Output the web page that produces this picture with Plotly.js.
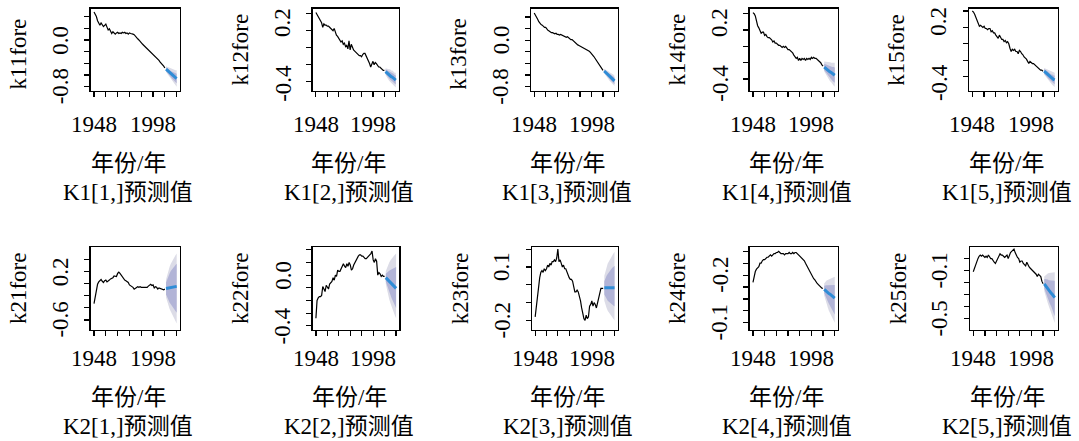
<!DOCTYPE html>
<html>
<head>
<meta charset="utf-8">
<script src="https://cdn.plot.ly/plotly-3.0.1.min.js"></script>
<style>html,body{margin:0;padding:0;background:#fff}#chart{width:1079px;height:441px}</style>
</head>
<body>
<div id="chart"></div>
<script>
// ---------------- DATA ----------------
const obsYears = [1948,1949,1950,1951,1952,1953,1954,1955,1956,1957,1958,1959,1960,1961,1962,1963,1964,1965,1966,1967,1968,1969,1970,1971,1972,1973,1974,1975,1976,1977,1978,1979,1980,1981,1982,1983,1984,1985,1986,1987,1988,1989,1990,1991,1992,1993,1994,1995,1996,1997,1998,1999,2000,2001,2002,2003,2004,2005,2006,2007,2008];
const fcYears = [2009,2010,2011,2012,2013,2014,2015,2016,2017,2018];

const xTickVals = [1948,1958,1968,1978,1988,1998,2008,2018];
const xLabelVals = [1948,1998];
const xLabelText = ["1948","1998"];

const yTitles = ["k11fore","k12fore","k13fore","k14fore","k15fore","k21fore","k22fore","k23fore","k24fore","k25fore"];
const subTitles = ["K1[1,]预测值","K1[2,]预测值","K1[3,]预测值","K1[4,]预测值","K1[5,]预测值","K2[1,]预测值","K2[2,]预测值","K2[3,]预测值","K2[4,]预测值","K2[5,]预测值"];
const xTitle = "年份/年";

// k11
const k11 = [0.48,0.44,0.40,0.33,0.27,0.25,0.29,0.26,0.23,0.25,0.27,0.22,0.17,0.19,0.15,0.11,0.14,0.12,0.10,0.12,0.13,0.11,0.12,0.11,0.13,0.12,0.13,0.11,0.12,0.10,0.12,0.11,0.11,0.10,0.09,0.06,0.05,0.02,0.00,-0.03,-0.04,-0.07,-0.09,-0.11,-0.12,-0.15,-0.17,-0.19,-0.21,-0.23,-0.25,-0.27,-0.29,-0.31,-0.33,-0.35,-0.38,-0.40,-0.43,-0.45,-0.48];
const k11Fc = [-0.50,-0.52,-0.54,-0.56,-0.58,-0.60,-0.61,-0.63,-0.645,-0.66];
const k11Lo95 = [-0.55,-0.58,-0.61,-0.64,-0.67,-0.70,-0.72,-0.75,-0.77,-0.80];
const k11Hi95 = [-0.45,-0.46,-0.47,-0.48,-0.49,-0.50,-0.50,-0.51,-0.52,-0.52];
const k11Lo80 = [-0.53,-0.56,-0.58,-0.61,-0.63,-0.66,-0.68,-0.70,-0.72,-0.74];
const k11Hi80 = [-0.47,-0.48,-0.50,-0.51,-0.53,-0.54,-0.54,-0.56,-0.57,-0.58];
const k11YTicks = [-0.8,-0.6,-0.4,-0.2,0.0,0.2,0.4];
const k11YLabelVals = [-0.8,0.0];
const k11YLabelText = ["-0.8","0.0"];

// k12
const k12 = [0.21,0.19,0.17,0.15,0.14,0.12,0.08,0.11,0.10,0.10,0.09,0.09,0.08,0.07,0.06,0.05,0.07,0.03,0.01,0.00,-0.02,-0.03,-0.05,-0.04,-0.07,-0.06,-0.09,-0.08,-0.11,-0.04,-0.12,-0.07,-0.10,-0.12,-0.13,-0.14,-0.15,-0.16,-0.17,-0.17,-0.18,-0.16,-0.15,-0.15,-0.17,-0.19,-0.21,-0.24,-0.27,-0.24,-0.22,-0.25,-0.23,-0.24,-0.26,-0.27,-0.27,-0.28,-0.29,-0.30,-0.30];
const k12Fc = [-0.31,-0.32,-0.33,-0.34,-0.345,-0.355,-0.36,-0.37,-0.38,-0.385];
const k12Lo95 = [-0.34,-0.36,-0.37,-0.39,-0.40,-0.41,-0.42,-0.43,-0.44,-0.45];
const k12Hi95 = [-0.28,-0.285,-0.29,-0.29,-0.29,-0.30,-0.30,-0.31,-0.32,-0.32];
const k12Lo80 = [-0.33,-0.345,-0.355,-0.37,-0.38,-0.39,-0.40,-0.41,-0.42,-0.425];
const k12Hi80 = [-0.29,-0.295,-0.305,-0.31,-0.31,-0.32,-0.32,-0.33,-0.34,-0.345];
const k12YTicks = [-0.4,-0.25,-0.1,0.05,0.2];
const k12YLabelVals = [-0.412,0.124];
const k12YLabelText = ["-0.4","0.2"];

// k13
const k13 = [0.47,0.44,0.40,0.36,0.32,0.29,0.27,0.26,0.24,0.22,0.22,0.19,0.17,0.16,0.14,0.13,0.13,0.12,0.11,0.12,0.10,0.10,0.09,0.10,0.09,0.07,0.06,0.06,0.05,0.06,0.04,0.02,0.01,0.01,-0.01,-0.03,-0.05,-0.06,-0.08,-0.09,-0.10,-0.11,-0.12,-0.13,-0.14,-0.15,-0.16,-0.17,-0.19,-0.21,-0.23,-0.25,-0.28,-0.31,-0.34,-0.39,-0.42,-0.45,-0.48,-0.51,-0.52];
const k13Fc = [-0.53,-0.55,-0.57,-0.59,-0.61,-0.63,-0.645,-0.665,-0.68,-0.70];
const k13Lo95 = [-0.57,-0.60,-0.63,-0.655,-0.68,-0.705,-0.725,-0.75,-0.77,-0.79];
const k13Hi95 = [-0.49,-0.50,-0.51,-0.525,-0.54,-0.555,-0.565,-0.58,-0.59,-0.61];
const k13Lo80 = [-0.555,-0.58,-0.605,-0.63,-0.655,-0.675,-0.695,-0.72,-0.735,-0.76];
const k13Hi80 = [-0.505,-0.52,-0.535,-0.55,-0.565,-0.585,-0.595,-0.61,-0.625,-0.64];
const k13YTicks = [-0.8,-0.6,-0.4,-0.2,0.0,0.2,0.4];
const k13YLabelVals = [-0.8,0.0];
const k13YLabelText = ["-0.8","0.0"];

// k14
const k14 = [0.21,0.20,0.18,0.12,0.09,0.07,0.05,0.02,0.03,0.03,0.00,0.01,-0.01,-0.02,-0.02,-0.03,-0.04,-0.06,-0.05,-0.07,-0.07,-0.08,-0.09,-0.09,-0.10,-0.11,-0.10,-0.11,-0.10,-0.12,-0.13,-0.13,-0.14,-0.15,-0.16,-0.18,-0.20,-0.21,-0.20,-0.23,-0.21,-0.23,-0.21,-0.22,-0.21,-0.23,-0.21,-0.22,-0.21,-0.22,-0.20,-0.21,-0.20,-0.21,-0.21,-0.22,-0.23,-0.24,-0.25,-0.27,-0.28];
const k14Fc = [-0.29,-0.30,-0.31,-0.32,-0.325,-0.335,-0.34,-0.35,-0.355,-0.365];
const k14Lo95 = [-0.33,-0.35,-0.37,-0.39,-0.40,-0.42,-0.43,-0.45,-0.46,-0.47];
const k14Hi95 = [-0.24,-0.24,-0.24,-0.245,-0.245,-0.245,-0.25,-0.25,-0.25,-0.25];
const k14Lo80 = [-0.32,-0.335,-0.35,-0.365,-0.375,-0.39,-0.40,-0.415,-0.425,-0.435];
const k14Hi80 = [-0.26,-0.265,-0.27,-0.275,-0.275,-0.28,-0.285,-0.29,-0.29,-0.295];
const k14YTicks = [-0.4,-0.25,-0.1,0.05,0.2];
const k14YLabelVals = [-0.437,0.121];
const k14YLabelText = ["-0.4","0.2"];

// k15
const k15 = [0.20,0.19,0.17,0.14,0.12,0.10,0.06,0.07,0.06,0.05,0.06,0.04,0.04,0.03,0.04,0.04,0.01,0.02,0.00,0.00,-0.02,-0.04,-0.05,-0.02,-0.04,-0.06,-0.06,-0.08,-0.07,-0.09,-0.08,-0.10,-0.14,-0.17,-0.15,-0.16,-0.15,-0.17,-0.17,-0.19,-0.16,-0.17,-0.19,-0.20,-0.22,-0.23,-0.24,-0.26,-0.28,-0.26,-0.27,-0.28,-0.28,-0.29,-0.30,-0.31,-0.32,-0.33,-0.34,-0.34,-0.35];
const k15Fc = [-0.35,-0.36,-0.37,-0.38,-0.39,-0.40,-0.41,-0.415,-0.425,-0.43];
const k15Lo95 = [-0.38,-0.395,-0.41,-0.425,-0.44,-0.45,-0.465,-0.475,-0.485,-0.495];
const k15Hi95 = [-0.32,-0.325,-0.33,-0.335,-0.34,-0.35,-0.355,-0.355,-0.365,-0.365];
const k15Lo80 = [-0.37,-0.385,-0.395,-0.41,-0.42,-0.43,-0.44,-0.45,-0.46,-0.47];
const k15Hi80 = [-0.33,-0.335,-0.345,-0.35,-0.36,-0.37,-0.38,-0.38,-0.39,-0.39];
const k15YTicks = [-0.4,-0.25,-0.1,0.05,0.2];
const k15YLabelVals = [-0.458,0.102];
const k15YLabelText = ["-0.4","0.2"];

// k21
const k21 = [-0.33,-0.22,-0.10,-0.01,0.03,0.05,0.07,0.04,0.02,0.05,0.06,0.03,0.04,0.06,0.08,0.09,0.10,0.13,0.12,0.12,0.17,0.19,0.17,0.14,0.12,0.08,0.06,0.05,0.03,0.02,-0.02,-0.03,-0.04,-0.06,-0.09,-0.08,-0.06,-0.05,-0.06,-0.05,-0.06,-0.06,-0.05,-0.06,-0.05,-0.06,-0.04,-0.03,-0.01,-0.03,-0.02,-0.07,-0.05,-0.06,-0.09,-0.07,-0.08,-0.09,-0.09,-0.10,-0.09];
const k21Fc = [-0.08,-0.075,-0.07,-0.07,-0.065,-0.06,-0.055,-0.05,-0.048,-0.044];
const k21Lo95 = [-0.23,-0.30,-0.36,-0.42,-0.46,-0.50,-0.54,-0.58,-0.62,-0.66];
const k21Hi95 = [0.07,0.15,0.22,0.28,0.33,0.37,0.41,0.44,0.47,0.50];
const k21Lo80 = [-0.18,-0.23,-0.27,-0.31,-0.34,-0.37,-0.40,-0.43,-0.46,-0.48];
const k21Hi80 = [0.02,0.08,0.13,0.17,0.21,0.24,0.27,0.29,0.31,0.33];
const k21YTicks = [-0.6,-0.4,-0.2,0.0,0.2,0.4];
const k21YLabelVals = [-0.6,0.2];
const k21YLabelText = ["-0.6","0.2"];

// k22
const k22 = [-0.34,-0.20,-0.18,-0.17,-0.17,-0.16,-0.09,-0.12,-0.13,-0.08,-0.10,-0.11,-0.07,-0.06,-0.05,-0.02,-0.04,0.00,-0.01,0.04,0.03,0.03,0.05,0.07,0.09,0.07,0.06,0.09,0.07,0.10,0.08,0.04,0.05,0.08,0.10,0.12,0.13,0.15,0.16,0.16,0.15,0.15,0.14,0.13,0.13,0.14,0.15,0.16,0.17,0.19,0.12,0.10,0.13,0.11,0.00,0.02,0.01,-0.01,0.00,-0.01,-0.01];
const k22Fc = [-0.02,-0.03,-0.04,-0.05,-0.06,-0.07,-0.08,-0.09,-0.10,-0.105];
const k22Lo95 = [-0.07,-0.12,-0.16,-0.19,-0.22,-0.25,-0.27,-0.29,-0.32,-0.34];
const k22Hi95 = [0.03,0.06,0.08,0.10,0.115,0.13,0.14,0.15,0.16,0.17];
const k22Lo80 = [-0.05,-0.08,-0.11,-0.14,-0.16,-0.18,-0.20,-0.22,-0.24,-0.26];
const k22Hi80 = [0.01,0.02,0.03,0.035,0.04,0.045,0.05,0.055,0.06,0.065];
const k22YTicks = [-0.4,-0.3,-0.2,-0.1,0.0,0.1,0.2];
const k22YLabelVals = [-0.4,0.0];
const k22YLabelText = ["-0.4","0.0"];

// k23
const k23 = [-0.18,-0.12,-0.06,-0.01,0.04,0.07,0.08,0.07,0.09,0.08,0.09,0.11,0.10,0.12,0.11,0.13,0.13,0.14,0.13,0.15,0.20,0.13,0.14,0.12,0.10,0.11,0.09,0.09,0.07,0.05,0.04,0.03,0.03,0.02,-0.01,-0.04,-0.04,-0.03,-0.04,-0.06,-0.09,-0.13,-0.17,-0.19,-0.20,-0.17,-0.19,-0.18,-0.12,-0.11,-0.09,-0.12,-0.10,-0.11,-0.13,-0.10,-0.09,-0.06,-0.02,-0.02,-0.02];
const k23Fc = [-0.017,-0.017,-0.017,-0.017,-0.017,-0.017,-0.017,-0.017,-0.017,-0.017];
const k23Lo95 = [-0.09,-0.115,-0.13,-0.145,-0.155,-0.165,-0.175,-0.185,-0.19,-0.20];
const k23Hi95 = [0.05,0.08,0.10,0.12,0.13,0.145,0.155,0.165,0.175,0.185];
const k23Lo80 = [-0.055,-0.07,-0.08,-0.09,-0.095,-0.10,-0.105,-0.11,-0.115,-0.122];
const k23Hi80 = [0.02,0.04,0.05,0.06,0.07,0.08,0.09,0.095,0.10,0.107];
const k23YTicks = [-0.2,-0.1,0.0,0.1,0.2];
const k23YLabelVals = [-0.2,0.1];
const k23YLabelText = ["-0.2","0.1"];

// k24
const k24 = [-0.26,-0.20,-0.17,-0.15,-0.14,-0.13,-0.10,-0.10,-0.08,-0.07,-0.07,-0.06,-0.05,-0.05,-0.04,-0.03,-0.04,-0.03,-0.02,-0.02,-0.01,-0.01,0.00,-0.01,-0.02,-0.02,-0.02,-0.03,-0.02,-0.02,-0.02,-0.01,-0.02,-0.02,-0.01,-0.02,-0.01,-0.01,-0.02,-0.03,-0.04,-0.05,-0.06,-0.07,-0.08,-0.10,-0.12,-0.14,-0.16,-0.17,-0.19,-0.21,-0.23,-0.24,-0.26,-0.27,-0.28,-0.29,-0.30,-0.31,-0.31];
const k24Fc = [-0.32,-0.33,-0.34,-0.345,-0.355,-0.36,-0.37,-0.38,-0.385,-0.394];
const k24Lo95 = [-0.37,-0.41,-0.44,-0.47,-0.50,-0.52,-0.55,-0.57,-0.59,-0.60];
const k24Hi95 = [-0.27,-0.255,-0.245,-0.24,-0.235,-0.23,-0.225,-0.22,-0.217,-0.214];
const k24Lo80 = [-0.35,-0.38,-0.40,-0.42,-0.44,-0.46,-0.48,-0.50,-0.515,-0.53];
const k24Hi80 = [-0.29,-0.285,-0.285,-0.285,-0.285,-0.285,-0.285,-0.285,-0.284,-0.283];
const k24YTicks = [-0.6,-0.5,-0.4,-0.3,-0.2,-0.1,0.0];
const k24YLabelVals = [-0.6,-0.2];
const k24YLabelText = ["-0.1","-0.2"];

// k25
const k25 = [-0.11,-0.08,-0.05,-0.03,0.00,0.02,0.03,0.02,0.03,0.02,0.01,0.02,0.01,0.03,0.01,0.00,0.00,-0.02,-0.03,-0.04,-0.02,0.00,0.01,0.04,0.03,0.03,0.02,0.01,0.02,0.03,0.00,0.03,0.05,0.06,0.07,0.08,0.05,0.02,0.01,0.00,-0.03,-0.02,-0.02,-0.04,-0.05,-0.06,-0.03,-0.06,-0.07,-0.08,-0.09,-0.10,-0.11,-0.12,-0.13,-0.15,-0.13,-0.14,-0.15,-0.19,-0.21];
const k25Fc = [-0.21,-0.225,-0.24,-0.255,-0.265,-0.28,-0.29,-0.30,-0.315,-0.325];
const k25Lo95 = [-0.27,-0.31,-0.34,-0.37,-0.40,-0.43,-0.46,-0.49,-0.51,-0.537];
const k25Hi95 = [-0.15,-0.14,-0.13,-0.125,-0.12,-0.12,-0.115,-0.115,-0.114,-0.114];
const k25Lo80 = [-0.25,-0.28,-0.30,-0.33,-0.35,-0.38,-0.40,-0.43,-0.45,-0.48];
const k25Hi80 = [-0.17,-0.17,-0.175,-0.175,-0.18,-0.18,-0.18,-0.185,-0.185,-0.185];
const k25YTicks = [-0.5,-0.4,-0.3,-0.2,-0.1,0.0];
const k25YLabelVals = [-0.5,-0.1];
const k25YLabelText = ["-0.5","-0.1"];

// ---------------- LAYOUT / STYLE ----------------
const W = 1079, H = 441;
const FONT = "'Liberation Serif', 'Times New Roman', 'Noto Sans CJK SC', serif";
const FS = 23;
const COL_LINE = "#000000", COL_FC = "#2F8CD6", COL_95 = "#DCDCE7", COL_80 = "#B2B4D7";

const panels = [
  {obs:k11, fc:k11Fc, lo95:k11Lo95, hi95:k11Hi95, lo80:k11Lo80, hi80:k11Hi80, ticks:k11YTicks, lv:k11YLabelVals, lt:k11YLabelText, box:{l:90.7,r:180,t:8.7,b:90.7}, yr:[-0.869,0.535], ylOff:4},
  {obs:k12, fc:k12Fc, lo95:k12Lo95, hi95:k12Hi95, lo80:k12Lo80, hi80:k12Hi80, ticks:k12YTicks, lv:k12YLabelVals, lt:k12YLabelText, box:{l:312.7,r:399,t:8.7,b:90.7}, yr:[-0.479,0.244], ylOff:0},
  {obs:k13, fc:k13Fc, lo95:k13Lo95, hi95:k13Hi95, lo80:k13Lo80, hi80:k13Hi80, ticks:k13YTicks, lv:k13YLabelVals, lt:k13YLabelText, box:{l:531,r:617.7,t:8.7,b:90.7}, yr:[-0.869,0.543], ylOff:4},
  {obs:k14, fc:k14Fc, lo95:k14Lo95, hi95:k14Hi95, lo80:k14Lo80, hi80:k14Hi80, ticks:k14YTicks, lv:k14YLabelVals, lt:k14YLabelText, box:{l:749.7,r:838,t:8.7,b:90.7}, yr:[-0.507,0.246], ylOff:0},
  {obs:k15, fc:k15Fc, lo95:k15Lo95, hi95:k15Hi95, lo80:k15Lo80, hi80:k15Hi80, ticks:k15YTicks, lv:k15YLabelVals, lt:k15YLabelText, box:{l:969,r:1058,t:8.7,b:90.7}, yr:[-0.528,0.221], ylOff:0},
  {obs:k21, fc:k21Fc, lo95:k21Lo95, hi95:k21Hi95, lo80:k21Lo80, hi80:k21Hi80, ticks:k21YTicks, lv:k21YLabelVals, lt:k21YLabelText, box:{l:90.7,r:180,t:247,b:329.7}, yr:[-0.762,0.608], ylOff:0},
  {obs:k22, fc:k22Fc, lo95:k22Lo95, hi95:k22Hi95, lo80:k22Lo80, hi80:k22Hi80, ticks:k22YTicks, lv:k22YLabelVals, lt:k22YLabelText, box:{l:312.7,r:399.3,t:247,b:329.7}, yr:[-0.431,0.222], ylOff:0},
  {obs:k23, fc:k23Fc, lo95:k23Lo95, hi95:k23Hi95, lo80:k23Lo80, hi80:k23Hi80, ticks:k23YTicks, lv:k23YLabelVals, lt:k23YLabelText, box:{l:532,r:617.7,t:247,b:329.7}, yr:[-0.252,0.212], ylOff:0},
  {obs:k24, fc:k24Fc, lo95:k24Lo95, hi95:k24Hi95, lo80:k24Lo80, hi80:k24Hi80, ticks:k24YTicks, lv:k24YLabelVals, lt:k24YLabelText, box:{l:749.7,r:838,t:247,b:329.7}, yr:[-0.658,0.036], ylOff:0},
  {obs:k25, fc:k25Fc, lo95:k25Lo95, hi95:k25Hi95, lo80:k25Lo80, hi80:k25Hi80, ticks:k25YTicks, lv:k25YLabelVals, lt:k25YLabelText, box:{l:970,r:1058,t:247,b:329.7}, yr:[-0.593,0.097], ylOff:0}
];

const px = p => p / W;
const py = p => 1 - p / H;

const traces = [];
const layout = {
  width: W, height: H,
  margin: {l:0, r:0, t:0, b:0},
  paper_bgcolor: "#fff", plot_bgcolor: "#fff",
  showlegend: false,
  font: {family: FONT, size: FS, color: "#000"},
  annotations: []
};

panels.forEach((p, i) => {
  const n = i + 1;
  const xa = n === 1 ? "x" : "x" + n;
  const ya = n === 1 ? "y" : "y" + n;
  const row2 = i >= 5;
  const b = p.box;

  const base = {xaxis: xa, yaxis: ya, mode: "lines", hoverinfo: "skip"};
  traces.push(Object.assign({}, base, {x: fcYears, y: p.lo95, line: {width: 0, color: COL_95}}));
  traces.push(Object.assign({}, base, {x: fcYears, y: p.hi95, line: {width: 0, color: COL_95}, fill: "tonexty", fillcolor: COL_95}));
  traces.push(Object.assign({}, base, {x: fcYears, y: p.lo80, line: {width: 0, color: COL_80}}));
  traces.push(Object.assign({}, base, {x: fcYears, y: p.hi80, line: {width: 0, color: COL_80}, fill: "tonexty", fillcolor: COL_80}));
  traces.push(Object.assign({}, base, {x: obsYears, y: p.obs, line: {width: 1.2, color: COL_LINE}}));
  traces.push(Object.assign({}, base, {x: fcYears, y: p.fc, line: {width: 3, color: COL_FC}}));

  const axCommon = {
    showgrid: false, zeroline: false, showline: true, mirror: true,
    linecolor: "#000", linewidth: 1.4, ticks: "outside", ticklen: 5, tickwidth: 1.2,
    tickcolor: "#000", showticklabels: false, tickmode: "array", fixedrange: true
  };
  layout[n === 1 ? "xaxis" : "xaxis" + n] = Object.assign({}, axCommon, {
    domain: [px(b.l), px(b.r)], anchor: ya, range: [1945.2, 2020.8], tickvals: xTickVals
  });
  layout[n === 1 ? "yaxis" : "yaxis" + n] = Object.assign({}, axCommon, {
    domain: [py(b.b), py(b.t)], anchor: xa, range: p.yr, tickvals: p.ticks
  });

  const txt = {showarrow: false, font: {family: FONT, size: FS, color: "#000"}, xanchor: "center", yanchor: "middle"};
  xLabelVals.forEach((v, k) => {
    layout.annotations.push(Object.assign({}, txt, {
      xref: xa, yref: "paper", x: v, y: py(b.b + (row2 ? 29 : 34)), text: xLabelText[k]
    }));
  });
  p.lv.forEach((v, k) => {
    layout.annotations.push(Object.assign({}, txt, {
      xref: "paper", yref: ya, x: px(b.l - 30), y: v, text: p.lt[k], textangle: -90
    }));
  });
  layout.annotations.push(Object.assign({}, txt, {
    xref: "paper", yref: "paper", x: px(b.l - 72), y: py((b.t + b.b) / 2 + p.ylOff), text: yTitles[i], textangle: -90
  }));
  const cx = (b.l + b.r) / 2 - 7;
  layout.annotations.push(Object.assign({}, txt, {
    xref: "paper", yref: "paper", x: px(cx), y: py(row2 ? 397 : 163), text: xTitle
  }));
  layout.annotations.push(Object.assign({}, txt, {
    xref: "paper", yref: "paper", x: px(cx), y: py(row2 ? 426 : 192), text: subTitles[i]
  }));
});

Plotly.newPlot("chart", traces, layout, {staticPlot: true, displayModeBar: false});
</script>
</body>
</html>
